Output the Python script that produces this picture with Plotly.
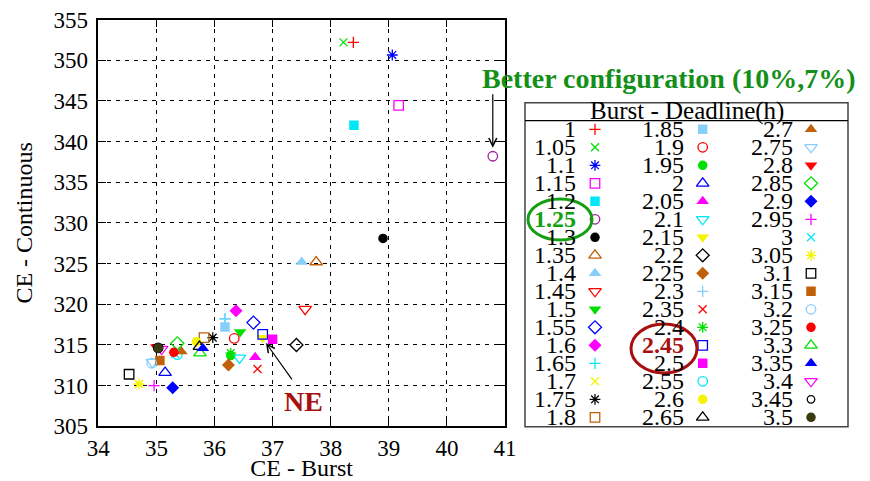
import plotly.graph_objects as go

# ---------------- data ----------------
deadlines = ["1", "1.05", "1.1", "1.15", "1.2", "1.25", "1.3", "1.35", "1.4", "1.45",
             "1.5", "1.55", "1.6", "1.65", "1.7", "1.75", "1.8", "1.85", "1.9", "1.95",
             "2", "2.05", "2.1", "2.15", "2.2", "2.25", "2.3", "2.35", "2.4", "2.45",
             "2.5", "2.55", "2.6", "2.65", "2.7", "2.75", "2.8", "2.85", "2.9", "2.95",
             "3", "3.05", "3.1", "3.15", "3.2", "3.25", "3.3", "3.35", "3.4", "3.45", "3.5"]

ce_burst = [38.39, 38.22, 39.06, 39.17, 38.40, 40.79, 38.90, 37.75, 37.50, 37.56,
            36.44, 36.67, 36.37, 36.18, 34.70, 35.97, 35.82, 36.18, 36.34, 36.28,
            35.15, 36.70, 36.43, 36.83, 37.41, 36.24, 36.18, 36.74, 36.28, 36.83,
            37.00, 35.36, 35.69, 35.74, 35.43, 34.93, 35.00, 35.36, 35.28, 34.96,
            35.32, 34.70, 34.53, 35.06, 34.92, 35.30, 35.75, 35.80, 35.09, 35.03, 35.03]

ce_continuous = [352.2, 352.2, 350.65, 344.45, 342.0, 338.2, 328.1, 325.2, 325.2, 319.4,
                 316.6, 317.75, 319.2, 318.2, 310.2, 315.9, 315.9, 317.2, 315.8, 313.7,
                 311.6, 313.5, 313.4, 315.9, 315.0, 312.55, 318.2, 312.05, 314.0, 316.3,
                 315.7, 313.8, 315.4, 314.8, 314.2, 312.9, 314.75, 315.2, 309.75, 310.0,
                 313.9, 310.2, 311.4, 313.1, 312.75, 314.1, 314.0, 314.6, 314.5, 314.65, 314.6]

x_ticks = [34, 35, 36, 37, 38, 39, 40, 41]
y_ticks = [305, 310, 315, 320, 325, 330, 335, 340, 345, 350, 355]

# ---------------- styles ----------------
RED, GRN, BLU, MAG, CYN = "#ff0000", "#00e000", "#0000ff", "#ff00ff", "#00e8f8"
PUR, BLK, ORG, LBL, YEL, OLV = "#a0209a", "#000000", "#c0600a", "#87cefa", "#f4f400", "#3a3a10"

colors = [RED, GRN, BLU, MAG, CYN, PUR, BLK, ORG, LBL, RED,
          GRN, BLU, MAG, CYN, YEL, BLK, ORG, LBL, RED, GRN,
          BLU, MAG, CYN, YEL, BLK, ORG, LBL, RED, GRN, BLU,
          MAG, CYN, YEL, BLK, ORG, LBL, RED, GRN, BLU, MAG,
          CYN, YEL, BLK, ORG, LBL, RED, GRN, BLU, MAG, BLK, OLV]

cycle = ["cross-thin-open", "x-thin-open", "asterisk-open", "square-open", "square",
         "circle-open", "circle", "triangle-up-open", "triangle-up", "triangle-down-open",
         "triangle-down", "diamond-open", "diamond"]
symbols = [cycle[i % 13] for i in range(49)] + ["circle-open", "circle"]

def msize(sym):
    if sym.startswith(("cross", "x-thin")):
        return 8
    if sym.startswith("asterisk"):
        return 9
    if sym.startswith("diamond"):
        return 10
    if sym.startswith("triangle"):
        return 11
    return 9.5

FONT = "Liberation Serif"
OFF = 8.0            # page body margin of the browser
W, H = 862, 473      # figure size so that it fits the 870x481 window

def px(v):           # window pixel x -> paper x
    return (v - OFF) / W

def py(v):           # window pixel y -> paper y
    return 1 - (v - OFF) / H

# plot area in window pixels
PX0, PX1, PY0, PY1 = 98.3, 505.0, 19.6, 426.3
# legend box in window pixels
LX0, LX1, LY0, LY1 = 525.0, 848.0, 102.7, 426.7

fig = go.Figure()

for i, d in enumerate(deadlines):
    s = symbols[i]
    is_open = s.endswith("open")
    fig.add_trace(go.Scatter(
        x=[ce_burst[i]], y=[ce_continuous[i]], mode="markers", name=d,
        showlegend=False, xaxis="x", yaxis="y",
        marker=dict(symbol=s, size=msize(s), color=colors[i],
                    line=dict(color=colors[i], width=1.3 if is_open else 0)),
        hoverinfo="x+y+name"))

# custom 3-column legend (drawn on its own axes, in window pixel units)
ROW0, ROWH = 129.3, 18.0
MCOL = [595.0, 702.7, 811.0]
LCOL = [577.5, 686.0, 795.0]
annotations = []
for i, d in enumerate(deadlines):
    col, row = divmod(i, 17)
    s = symbols[i]
    is_open = s.endswith("open")
    sz = msize(s)
    if d == "3.45":
        sz = 7.5
    fig.add_trace(go.Scatter(
        x=[MCOL[col]], y=[ROW0 + row * ROWH], mode="markers", showlegend=False,
        xaxis="x2", yaxis="y2", hoverinfo="skip",
        marker=dict(symbol=s, size=sz, color=colors[i],
                    line=dict(color=colors[i], width=1.3 if is_open else 0))))
    fcol = "black"
    txt = d
    if d == "1.25":
        fcol, txt = "#12a012", "<b>1.25</b>"
    elif d == "2.45":
        fcol, txt = "#a81010", "<b>2.45</b>"
    annotations.append(dict(x=LCOL[col], y=ROW0 + row * ROWH, xref="x2", yref="y2",
                            text=txt, showarrow=False, xanchor="right", yanchor="middle",
                            font=dict(family=FONT, size=24, color=fcol)))

annotations.append(dict(x=px((LX0 + LX1) / 2), y=py(111.0), xref="paper", yref="paper",
                        text="Burst - Deadline(h)", showarrow=False, xanchor="center",
                        yanchor="middle", font=dict(family=FONT, size=25, color="black")))

# "Better configuration" annotation with arrow to the 1.25 point
annotations.append(dict(x=40.79, y=339.25, xref="x", yref="y", ax=0, ay=-55,
                        text="", showarrow=True, arrowhead=5, arrowsize=1.3,
                        arrowwidth=1.2, arrowcolor="black"))
annotations.append(dict(x=px(669), y=py(78), xref="paper", yref="paper",
                        text="<b>Better configuration (10%,7%)</b>", showarrow=False,
                        xanchor="center", yanchor="middle",
                        font=dict(family=FONT, size=28, color="#14901a")))
# NE annotation
annotations.append(dict(x=36.886, y=315.25, xref="x", yref="y", ax=27, ay=38,
                        text="", showarrow=True, arrowhead=5, arrowsize=1.3,
                        arrowwidth=1.2, arrowcolor="black"))
annotations.append(dict(x=37.54, y=308.1, xref="x", yref="y", text="<b>NE</b>",
                        showarrow=False, xanchor="center", yanchor="middle",
                        font=dict(family=FONT, size=28, color="#a81010")))

shapes = [
    dict(type="rect", xref="paper", yref="paper", x0=px(LX0), x1=px(LX1),
         y0=py(LY1), y1=py(LY0), line=dict(color="#444444", width=1.5)),
    dict(type="line", xref="paper", yref="paper", x0=px(LX0), x1=px(LX1),
         y0=py(120.7), y1=py(120.7), line=dict(color="black", width=1.2)),
    dict(type="circle", xref="paper", yref="paper", x0=px(528), x1=px(592),
         y0=py(240), y1=py(199), line=dict(color="#12a012", width=3)),
    dict(type="circle", xref="paper", yref="paper", x0=px(631), x1=px(697),
         y0=py(373), y1=py(324), line=dict(color="#a81010", width=3)),
]

axis_common = dict(showline=True, linecolor="black", linewidth=1.5, mirror="ticks",
                   ticks="inside", ticklen=8, tickcolor="black", tickwidth=1,
                   showgrid=True, gridcolor="black", gridwidth=1, griddash="4px,5px",
                   zeroline=False, ticklabeloverflow="allow",
                   tickfont=dict(family=FONT, size=23, color="black"))

fig.update_layout(
    width=W, height=H,
    margin=dict(l=0, r=0, t=0, b=0, pad=0),
    paper_bgcolor="white", plot_bgcolor="white",
    font=dict(family=FONT, color="black"),
    xaxis=dict(domain=[px(PX0), px(PX1)], range=[34, 41], tickvals=x_ticks,
               title=dict(text="CE - Burst", font=dict(family=FONT, size=24), standoff=6),
               automargin=False, anchor="y", **axis_common),
    yaxis=dict(domain=[py(PY1), py(PY0)], range=[305, 355], tickvals=y_ticks,
               ticklabelstandoff=4,
               title=dict(text="CE - Continuous", font=dict(family=FONT, size=24), standoff=14),
               automargin=False, anchor="x", **axis_common),
    xaxis2=dict(domain=[px(LX0), px(LX1)], range=[LX0, LX1], visible=False,
                anchor="y2", fixedrange=True),
    yaxis2=dict(domain=[py(LY1), py(LY0)], range=[LY1, LY0], visible=False,
                anchor="x2", fixedrange=True),
    annotations=annotations,
    shapes=shapes,
    showlegend=False,
)

fig.write_html("out.html")
